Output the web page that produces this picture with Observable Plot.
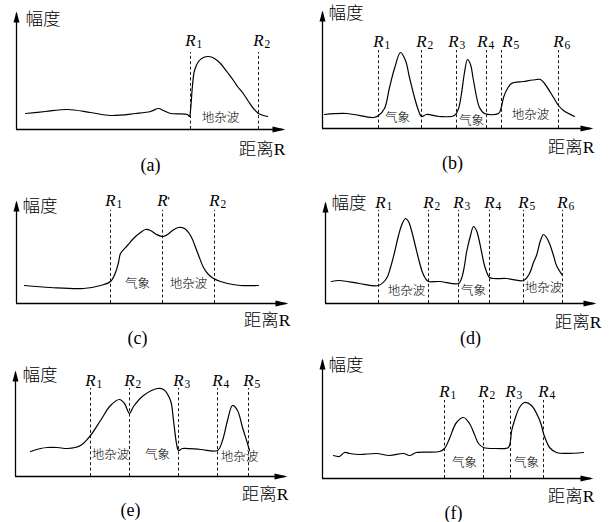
<!DOCTYPE html>
<html><head><meta charset="utf-8">
<script src="https://cdn.jsdelivr.net/npm/d3@7"></script>
<script src="https://cdn.jsdelivr.net/npm/@observablehq/plot@0.6"></script>
<style>
body{margin:0;background:#fff;}
#fig{position:relative;width:612px;height:522px;overflow:hidden;background:#fff;}
#fig>div{position:absolute;}
#fig svg{overflow:visible;background:transparent;}
</style></head><body><div id="fig"></div>
<script>
// ---- data: echo amplitude vs distance ([distance, amplitude]) ----
const captions = ["(a)", "(b)", "(c)", "(d)", "(e)", "(f)"];
const yTitle = "幅度";
const xTitle = "距离R";

const curveA = [[9,16],[29,18],[51,20],[74,17],[94,14],[119,16],[134,18],[142,21],[147,19],[154,16],[171,15],[173,13],[174,19],[176,44],[178,59],[182,68],[187,72],[192,73],[198,71],[204,66],[211,57],[217,49],[221,43],[226,37],[232,28],[237,21],[242,16],[251,13]];
const cutsA = [174, 242];
const cutNamesA = ["R1", "R2"];
const zonesA = [{text:"地杂波", x:204, y:12}];

const curveB = [[2,14],[24,15],[51,11],[56,13],[62,20],[67,41],[72,60],[78,76],[83,68],[87,51],[92,31],[96,18],[99,12],[104,14],[117,12],[132,13],[136,20],[139,35],[142,56],[145,69],[148,64],[151,48],[157,21],[162,15],[176,15],[179,22],[181,31],[185,40],[189,45],[201,47],[214,49],[218,49],[222,45],[231,31],[236,23],[241,18],[252,12]];
const cutsB = [56, 99, 134, 164, 179, 236];
const cutNamesB = ["R1", "R2", "R3", "R4", "R5", "R6"];
const zonesB = [{text:"气象", x:75, y:11}, {text:"气象", x:149, y:8}, {text:"地杂波", x:208, y:14}];

const curveC = [[8,18],[34,16],[67,15],[84,18],[94,22],[99,31],[102,41],[104,50],[111,58],[117,65],[124,71],[129,74],[134,73],[140,69],[146,67],[151,69],[156,73],[162,76],[168,75],[174,68],[181,51],[187,36],[192,29],[197,25],[204,22],[211,20],[224,18],[242,18]];
const cutsC = [94, 146, 198];
const cutNamesC = ["R1", "R'", "R2"];
const zonesC = [{text:"气象", x:121, y:20}, {text:"地杂波", x:172, y:20}];

const curveD = [[6,22],[14,23],[34,20],[53,18],[61,25],[65,36],[69,51],[73,68],[76,78],[80,85],[83,82],[86,73],[90,57],[94,41],[97,31],[100,25],[103,22],[114,22],[133,20],[136,25],[139,38],[141,51],[145,68],[148,77],[151,73],[153,66],[156,52],[159,38],[164,26],[168,25],[181,25],[198,23],[204,30],[208,41],[211,48],[215,63],[218,69],[221,66],[224,60],[228,48],[231,38],[237,28]];
const cutsD = [53, 103, 133, 164, 198, 237];
const cutNamesD = ["R1", "R2", "R3", "R4", "R5", "R6"];
const zonesD = [{text:"地杂波", x:81, y:13}, {text:"气象", x:148, y:13}, {text:"地杂波", x:218, y:16}];

const curveE = [[15,25],[25,28],[32,29],[42,29],[52,28],[65,31],[75,41],[85,56],[95,71],[104,77],[109,73],[114,63],[118,70],[128,81],[142,88],[148,87],[155,76],[158,56],[161,33],[163,26],[167,28],[185,27],[202,26],[207,36],[212,56],[217,71],[222,66],[227,49],[232,33],[234,26]];
const cutsE = [75, 114, 163, 202, 233];
const cutNamesE = ["R1", "R2", "R3", "R4", "R5"];
const zonesE = [{text:"地杂波", x:95, y:22}, {text:"气象", x:142, y:22}, {text:"地杂波", x:224, y:20}];

const curveF = [[11,23],[17,22],[22,26],[27,25],[37,24],[54,25],[67,23],[81,25],[87,23],[94,26],[117,27],[122,30],[127,40],[134,56],[141,61],[147,55],[152,44],[156,35],[161,31],[174,30],[186,31],[188,38],[189,47],[192,58],[197,71],[202,76],[209,73],[216,61],[219,53],[221,45],[224,37],[227,31],[234,26],[261,26]];
const cutsF = [122, 161, 188, 221];
const cutNamesF = ["R1", "R2", "R3", "R4"];
const zonesF = [{text:"气象", x:142, y:16}, {text:"气象", x:204, y:16}];

// ---- layout (pixels inside each panel) ----
const panels = [
  {left:0,   top:0,   h:175, curve:curveA, cuts:cutsA, names:cutNamesA, zones:zonesA, ox:16, oy:129, lx:269, ly:118, cutTop:77, nameBase:84, yl:[25,19], xl:[285,149], cap:[150,165], shift:{}},
  {left:306, top:0,   h:175, curve:curveB, cuts:cutsB, names:cutNamesB, zones:zonesB, ox:16, oy:128, lx:271, ly:118, cutTop:78, nameBase:82, yl:[22,13], xl:[288,147], cap:[146,163], shift:{R3:-3, R4:-4, R5:6}},
  {left:0,   top:175, h:175, curve:curveC, cuts:cutsC, names:cutNamesC, zones:zonesC, ox:16, oy:128, lx:272, ly:103, cutTop:93, nameBase:98, yl:[22,31], xl:[290,145], cap:[137,163], shift:{}},
  {left:306, top:175, h:175, curve:curveD, cuts:cutsD, names:cutNamesD, zones:zonesD, ox:19, oy:128, lx:271, ly:102, cutTop:93, nameBase:96, yl:[25,28], xl:[295,147], cap:[164,163], shift:{R1:2}},
  {left:0,   top:350, h:172, curve:curveE, cuts:cutsE, names:cutNamesE, zones:zonesE, ox:15, oy:126, lx:272, ly:106, cutTop:88, nameBase:91, yl:[22,25], xl:[288,144], cap:[130,160], shift:{}},
  {left:306, top:350, h:172, curve:curveF, cuts:cutsF, names:cutNamesF, zones:zonesF, ox:16, oy:128, lx:271, ly:120, cutTop:78, nameBase:82, yl:[22,15], xl:[288,146], cap:[147,163], shift:{}}
];

const arrowUp = {draw(ctx){ctx.moveTo(0,0);ctx.lineTo(-3,11);ctx.lineTo(3,11);ctx.closePath();}};
const arrowRight = {draw(ctx){ctx.moveTo(0,0);ctx.lineTo(-13,-3);ctx.lineTo(-13,3);ctx.closePath();}};
const serif = "'Liberation Serif', 'Times New Roman', serif";
const cjk = "'Noto Sans CJK SC', sans-serif";
const mixed = "'Liberation Serif', 'Noto Sans CJK SC', serif";

const fig = document.getElementById("fig");
panels.forEach((p, k) => {
  const cutRows = p.cuts.map((x, i) => ({x, name: p.names[i], main: p.names[i][0], sub: p.names[i].slice(1)}));
  const plot = Plot.plot({
    width: 306, height: p.h, margin: 0,
    x: {domain: [0, p.lx], range: [p.ox, p.ox + p.lx], axis: null},
    y: {domain: [0, p.ly], range: [p.oy, p.oy - p.ly], axis: null},
    style: {background: "transparent", overflow: "visible"},
    marks: [
      // axes with arrowheads
      Plot.ruleX([0], {y1: 0, y2: p.ly - 2, stroke: "#000", strokeWidth: 1.3}),
      Plot.ruleY([0], {x1: 0, x2: p.lx - 2, stroke: "#000", strokeWidth: 1.3}),
      Plot.dot([0], {x: 0, y: p.ly, symbol: arrowUp, fill: "#000", stroke: "none", r: 3}),
      Plot.dot([0], {x: p.lx, y: 0, symbol: arrowRight, fill: "#000", stroke: "none", r: 3}),
      // range gates
      Plot.ruleX(cutRows, {x: "x", y1: 0, y2: p.cutTop, stroke: "#000", strokeWidth: 0.9, strokeDasharray: "3,2.4"}),
      // gate names (label position nudged where the reference nudges it)
      Plot.text(cutRows, {x: d => d.x + (p.shift[d.name] || 0), y: p.nameBase, text: "main", textAnchor: "middle", lineAnchor: "bottom", fontSize: 17, fontStyle: "italic", fontFamily: serif, fill: "#000"}),
      Plot.text(cutRows, {filter: d => d.sub !== "'", x: d => d.x + (p.shift[d.name] || 0), y: p.nameBase, text: "sub", textAnchor: "start", lineAnchor: "bottom", dx: 6, dy: 2, fontSize: 11.5, fontFamily: serif, fill: "#000"}),
      Plot.text(cutRows, {filter: d => d.sub === "'", x: d => d.x + (p.shift[d.name] || 0), y: p.nameBase, text: "sub", textAnchor: "start", lineAnchor: "bottom", dx: 5, dy: -1, fontSize: 13, fontFamily: serif, fill: "#000"}),
      // echo curve
      Plot.line(p.curve, {x: d => d[0], y: d => d[1], curve: "catmull-rom", stroke: "#000", strokeWidth: 1.2}),
      // zone labels
      Plot.text(p.zones, {x: "x", y: "y", text: "text", fontSize: 12.5, fontFamily: cjk, fontWeight: 300, fill: "#000", lineAnchor: "middle"}),
      // titles
      Plot.text([yTitle], {frameAnchor: "top-left", dx: p.yl[0], dy: p.yl[1], text: d => d, textAnchor: "start", lineAnchor: "middle", fontSize: 17.5, fontFamily: cjk, fontWeight: 300, fill: "#000"}),
      Plot.text([xTitle], {frameAnchor: "top-left", dx: p.xl[0], dy: p.xl[1], text: d => d, textAnchor: "end", lineAnchor: "middle", fontSize: 17.5, fontFamily: mixed, fontWeight: 300, fill: "#000"}),
      Plot.text([captions[k]], {frameAnchor: "top-left", dx: p.cap[0], dy: p.cap[1], text: d => d, textAnchor: "middle", lineAnchor: "middle", fontSize: 18, fontFamily: serif, fill: "#000"})
    ]
  });
  const div = document.createElement("div");
  div.style.left = p.left + "px";
  div.style.top = p.top + "px";
  div.appendChild(plot);
  fig.appendChild(div);
});
</script>
</body></html>
